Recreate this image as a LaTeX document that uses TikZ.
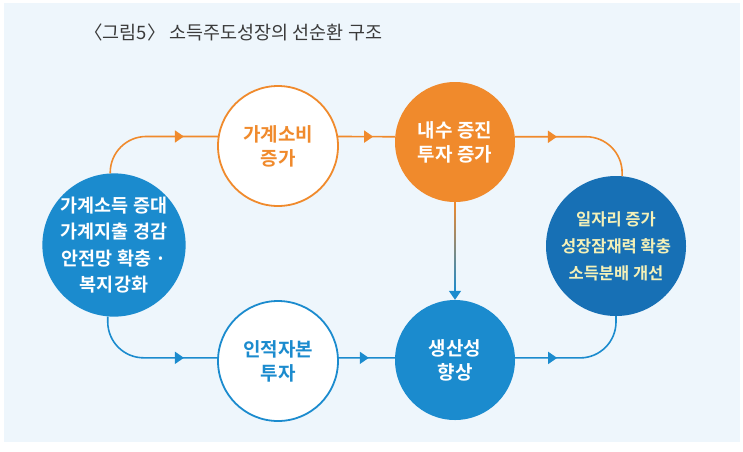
\documentclass[tikz,border=0pt]{standalone}
\usepackage{fontspec}
\setmainfont{Noto Sans CJK KR}[BoldFont={Noto Sans CJK KR Bold}]
\usetikzlibrary{arrows.meta,decorations.markings,calc}
\definecolor{cblue}{HTML}{1B8BCE}
\definecolor{cdeep}{HTML}{1770B5}
\definecolor{corange}{HTML}{F08A2C}
\definecolor{cpanel}{HTML}{EEF6FC}
\definecolor{cyellow}{HTML}{F4F1B8}
\definecolor{ctitle}{HTML}{3A3A3A}
\tikzset{%
  bubble/.style  = {shape=circle, align=center, inner sep=0pt,%
                    font=\bfseries\fontsize{19}{24}\selectfont},%
  bigbub/.style  = {bubble, minimum size=140pt},%
  fillbub/.style = {bubble, minimum size=120pt, text=white},%
  ringbub/.style = {bubble, minimum size=120pt, fill=white, line width=1.8pt},%
  link/.style    = {line width=1.6pt, rounded corners=36pt},%
  tip at/.style  = {postaction={decorate,decoration={markings,%
                    mark=at position #1 with {\arrow{Triangle[length=9pt,width=12pt]}}}}}%
}
\begin{document}
\begin{tikzpicture}[x=1pt,y=-1pt]%
	% panel and title
	\fill[white] (0,0) rectangle (743,451);
	\useasboundingbox (0,0) rectangle (743,451);
	\fill[cpanel] (4,3) rectangle (740,442);
	\node[anchor=west, inner sep=0pt, text=ctitle, font=\fontsize{18.5}{20}\selectfont] (title) at (84,32)
		{〈그림5〉 소득주도성장의 선순환 구조};
	% circles
	\node[bigbub, fill=cblue, text=white, font=\bfseries\fontsize{18.5}{26.5}\selectfont] (inc) at (114,245)
		{가계소득 증대\\가계지출 경감\\안전망 확충 ·\\복지강화};
	\node[ringbub, draw=corange, text=corange] (cons) at (278,146) {가계소비\\증가};
	\node[fillbub, fill=corange] (dem) at (455,142) {내수 증진\\투자 증가};
	\node[bigbub, fill=cdeep, text=cyellow, font=\bfseries\fontsize{16.5}{27}\selectfont] (job) at (616,246)
		{일자리 증가\\성장잠재력 확충\\소득분배 개선};
	\node[ringbub, draw=cblue, text=cblue] (hum) at (278,361) {인적자본\\투자};
	\node[fillbub, fill=cblue] (prod) at (455,360) {생산성\\향상};
	% upper loop
	\draw[link, corange, tip at=95pt] (inc.93) |- (cons.171);
	\draw[link, corange, tip at=35pt] (cons.9) -- (dem.175);
	\draw[link, corange, tip at=42pt] (dem.5) -| (job.85);
	% lower loop
	\draw[link, cblue, tip at=102pt] (inc.265) |- (hum.177);
	\draw[link, cblue, tip at=30pt] (hum.3) -- (prod.178);
	\draw[link, cblue, tip at=42pt] (prod.2) -| (job.270);
	% demand to productivity
	\shade[top color=corange, bottom color=cblue] ($(dem.south)+(-0.8,0)$) rectangle ($(prod.north)+(0.8,-8)$);
	\draw[cblue, line width=1.6pt, -{Triangle[length=9pt,width=12pt]}] ($(prod.north)+(0,-9)$) -- (prod.north);
\end{tikzpicture}
\end{document}
